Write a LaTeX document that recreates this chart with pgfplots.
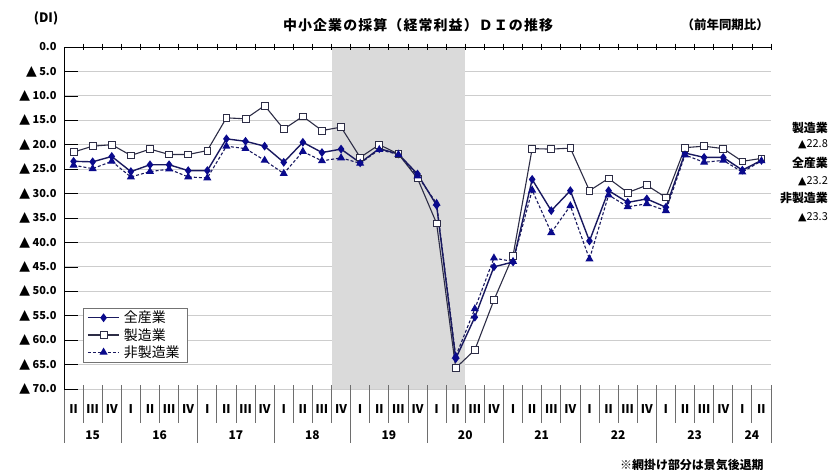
\documentclass[border=0pt]{standalone}
\usepackage{fontspec}
\setmainfont{Noto Sans CJK JP}
\newfontfamily\symfont{DejaVu Sans}
\usepackage{pgfplots}
\usepackage{pgfplotstable}
\pgfplotsset{compat=1.18}

\definecolor{navyline}{RGB}{25,25,95}
\definecolor{navymark}{RGB}{10,10,140}
\definecolor{sqline}{RGB}{45,45,70}
\definecolor{shade}{RGB}{218,218,218}
\definecolor{gridc}{RGB}{205,205,205}
\definecolor{sepc}{RGB}{110,110,110}

\newcommand{\tri}{{\symfont\fontsize{14}{12}\selectfont ▲}}

% quarter index (0 = 2015 II ... 36 = 2024 II), DI values shown as positive (drawn downward)
\pgfplotstableread{
x  all   mfg   nonmfg
0  23.4  21.5  24.2
1  23.5  20.3  24.9
2  22.4  20.0  23.4
3  25.5  22.2  26.6
4  24.1  20.9  25.5
5  24.1  22.0  25.0
6  25.3  22.0  26.6
7  25.3  21.2  26.8
8  18.8  14.5  20.3
9  19.3  14.7  20.8
10 20.3  12.0  23.2
11 23.6  16.8  25.9
12 19.5  14.2  21.4
13 21.6  17.1  23.3
14 20.9  16.4  22.7
15 23.7  22.6  23.8
16 20.8  20.0  21.0
17 21.9  21.9  22.0
18 26.0  26.9  26.4
19 32.4  36.1  32.0
20 63.8  65.7  63.3
21 55.3  62.0  53.6
22 45.0  51.8  43.2
23 44.0  42.7  43.9
24 27.1  20.8  29.3
25 33.5  20.9  38.0
26 29.4  20.7  32.5
27 39.7  29.4  43.4
28 29.4  26.9  30.3
29 31.8  29.8  32.7
30 31.1  28.3  32.1
31 32.8  30.8  33.5
32 21.7  20.6  22.1
33 22.6  20.3  23.6
34 22.6  20.8  23.2
35 25.2  23.4  25.6
36 23.2  22.8  23.3
}\ditable

\begin{document}
\begin{tikzpicture}
\begin{axis}[
  scale only axis,
  width=707bp, height=342bp,
  xmin=-0.5, xmax=36.5,
  ymin=0, ymax=70,
  y dir=reverse,
  clip=false,
  axis line style={draw=none},
  xtick={0,...,36},
  xticklabels={Ⅱ,Ⅲ,Ⅳ,Ⅰ,Ⅱ,Ⅲ,Ⅳ,Ⅰ,Ⅱ,Ⅲ,Ⅳ,Ⅰ,Ⅱ,Ⅲ,Ⅳ,Ⅰ,Ⅱ,Ⅲ,Ⅳ,Ⅰ,Ⅱ,Ⅲ,Ⅳ,Ⅰ,Ⅱ,Ⅲ,Ⅳ,Ⅰ,Ⅱ,Ⅲ,Ⅳ,Ⅰ,Ⅱ,Ⅲ,Ⅳ,Ⅰ,Ⅱ},
  xtick style={draw=none},
  xticklabel style={anchor=center, yshift=-20bp, font=\fontsize{12}{12}\selectfont\bfseries},
  ytick={0,5,...,70},
  yticklabels={0.0,\tri\ 5.0,\tri\ 10.0,\tri\ 15.0,\tri\ 20.0,\tri\ 25.0,\tri\ 30.0,\tri\ 35.0,\tri\ 40.0,\tri\ 45.0,\tri\ 50.0,\tri\ 55.0,\tri\ 60.0,\tri\ 65.0,\tri\ 70.0},
  ytick style={draw=none},
  yticklabel style={font=\fontsize{11}{11}\selectfont\bfseries, xshift=-4bp},
  ymajorgrids,
  grid style={gridc, line width=0.8bp},
  legend style={at={(0.027,0.237)}, anchor=north west, draw=black!55, fill=white,
    font=\fontsize{14}{14}\selectfont, inner xsep=4bp, inner ysep=1bp, row sep=0bp,
    legend cell align=left, nodes={inner xsep=4bp, inner ysep=2bp}},
  legend image code/.code={\draw[mark repeat=2, mark phase=2] plot coordinates {(0cm,0cm) (0.55cm,0cm) (1.1cm,0cm)};},
]
% recession period shading
\addplot[fill=shade, draw=none, forget plot] coordinates {(13.5,0) (20.5,0) (20.5,70) (13.5,70)} -- cycle;

\addplot[navyline, line width=1.4bp, mark=diamond*, mark size=3.3bp,
  mark options={fill=navymark, draw=navymark}] table[x=x, y=all] {\ditable};
\addplot[sqline, line width=1.1bp, mark=square*, mark size=3.4bp,
  mark options={fill=white, draw=sqline, line width=0.8bp}] table[x=x, y=mfg] {\ditable};
\addplot[navyline, line width=1.1bp, dash pattern=on 3bp off 2bp, mark=triangle*, mark size=3.6bp,
  mark options={solid, fill=navymark, draw=navymark}] table[x=x, y=nonmfg] {\ditable};
\legend{全産業,製造業,非製造業}

% frame lines, ticks and category separators
\draw[black, line width=0.8bp] (axis cs:-0.5,0) -- (axis cs:36.5,0);
\draw[black, line width=0.8bp] (axis cs:-0.5,0) -- (axis cs:-0.5,70);
\draw[sepc, line width=0.8bp] (axis cs:-0.5,70) -- (axis cs:-0.5,81);
\pgfplotsinvokeforeach{5,10,...,70}{
  \draw[black, line width=0.7bp] (axis cs:-0.5,#1) -- ++(4bp,0);
}
\pgfplotsinvokeforeach{0.5,1.5,...,36.5}{
  \draw[black, line width=0.7bp] (axis cs:#1,-0.7) -- (axis cs:#1,0.7);
  \draw[sepc, line width=0.8bp] (axis cs:#1,69.2) -- (axis cs:#1,76.9);
}
\pgfplotsinvokeforeach{2.5,6.5,10.5,14.5,18.5,22.5,26.5,30.5,34.5,36.5}{
  \draw[sepc, line width=0.8bp] (axis cs:#1,70) -- (axis cs:#1,81);
}

% year labels
\node[font=\fontsize{12}{12}\selectfont\bfseries] at (axis cs:1,79.4) {15};
\node[font=\fontsize{12}{12}\selectfont\bfseries] at (axis cs:4.5,79.4) {16};
\node[font=\fontsize{12}{12}\selectfont\bfseries] at (axis cs:8.5,79.4) {17};
\node[font=\fontsize{12}{12}\selectfont\bfseries] at (axis cs:12.5,79.4) {18};
\node[font=\fontsize{12}{12}\selectfont\bfseries] at (axis cs:16.5,79.4) {19};
\node[font=\fontsize{12}{12}\selectfont\bfseries] at (axis cs:20.5,79.4) {20};
\node[font=\fontsize{12}{12}\selectfont\bfseries] at (axis cs:24.5,79.4) {21};
\node[font=\fontsize{12}{12}\selectfont\bfseries] at (axis cs:28.5,79.4) {22};
\node[font=\fontsize{12}{12}\selectfont\bfseries] at (axis cs:32.5,79.4) {23};
\node[font=\fontsize{12}{12}\selectfont\bfseries] at (axis cs:35.5,79.4) {24};

% titles
\node[font=\fontsize{13}{13}\selectfont\bfseries] at (axis cs:-1.44,-5.9) {(DI)};
\node[font=\fontsize{14}{14}\selectfont\bfseries\addfontfeature{LetterSpace=8}] at (axis cs:18.03,-4.5) {中小企業の採算（経常利益）ＤＩの推移};
\node[anchor=east, font=\fontsize{12.5}{12.5}\selectfont\bfseries] at (axis cs:36.57,-4.5) {（前年同期比）};

% latest values on the right
\node[anchor=east, font=\fontsize{12}{12}\selectfont\bfseries] at (axis cs:39.66,16.6) {製造業};
\node[anchor=east, font=\fontsize{11}{11}\selectfont] at (axis cs:39.66,19.9) {{\symfont ▲}22.8};
\node[anchor=east, font=\fontsize{12}{12}\selectfont\bfseries] at (axis cs:39.66,23.7) {全産業};
\node[anchor=east, font=\fontsize{11}{11}\selectfont] at (axis cs:39.66,27.4) {{\symfont ▲}23.2};
\node[anchor=east, font=\fontsize{12}{12}\selectfont\bfseries] at (axis cs:39.66,30.9) {非製造業};
\node[anchor=east, font=\fontsize{11}{11}\selectfont] at (axis cs:39.66,34.8) {{\symfont ▲}23.3};

% note
\node[anchor=east, font=\fontsize{12}{12}\selectfont\bfseries] at (axis cs:36.3,85.5) {※網掛け部分は景気後退期};
\end{axis}
\pgfresetboundingbox
\useasboundingbox (current axis.south west) ++(-64bp,-81bp) rectangle ++(834bp,470bp);
\end{tikzpicture}
\end{document}
